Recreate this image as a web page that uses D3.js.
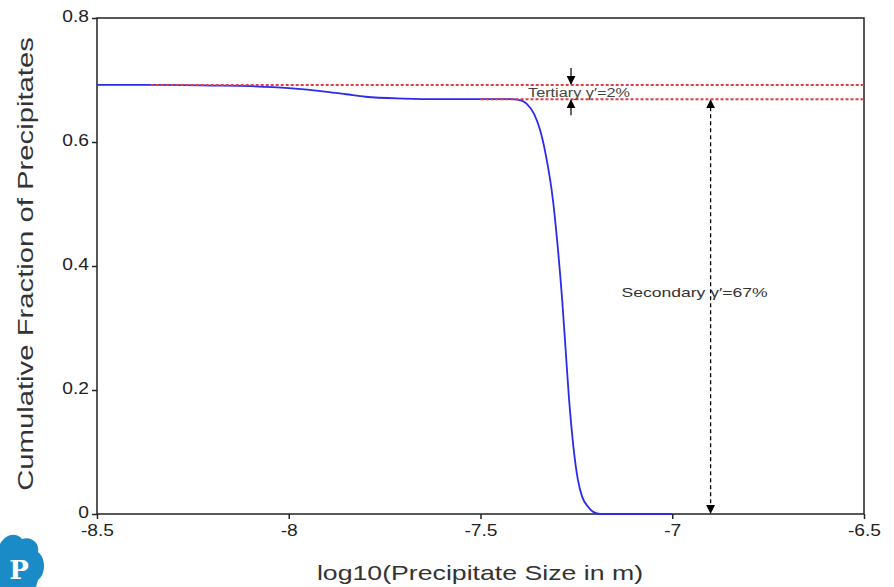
<!DOCTYPE html>
<html>
<head>
<meta charset="utf-8">
<style>
  body { margin: 0; background: #fff; }
  svg text { font-family: Arial, "Liberation Sans", sans-serif; }
</style>
<script src="https://d3js.org/d3.v7.min.js"></script>
</head>
<body>
<svg></svg>
<script>
// cumulative fraction curve
var sizeLog = [-8.5, -8.35, -8.2, -8.1, -8.0, -7.9, -7.85, -7.8, -7.7, -7.6, -7.5, -7.42, -7.40, -7.38, -7.36,
               -7.345, -7.33, -7.311, -7.30, -7.287, -7.278, -7.269, -7.258, -7.246, -7.235, -7.22, -7.205, -7.188, -7.1, -7.0];
var cumFrac = [0.692, 0.692, 0.691, 0.690, 0.687, 0.681, 0.677, 0.673, 0.670, 0.669, 0.669, 0.669, 0.668, 0.662, 0.645,
               0.62, 0.58, 0.506, 0.44, 0.345, 0.265, 0.184, 0.11, 0.055, 0.028, 0.012, 0.003, 0.0, 0.0, 0.0];
var xTicks = [-8.5, -8, -7.5, -7, -6.5];
var xTickLabels = ["-8.5", "-8", "-7.5", "-7", "-6.5"];
var yTicks = [0, 0.2, 0.4, 0.6, 0.8];
var yTickLabels = ["0", "0.2", "0.4", "0.6", "0.8"];

// reference levels
var totalLevel = 0.692, secondaryLevel = 0.669;
var totalStart = -8.36, secondaryStart = -7.5;
var tertiaryX = -7.264, secondaryX = -6.9;

var width = 894, height = 587;
var margin = {left: 97, right: 30, top: 18, bottom: 73};

var svg = d3.select("svg").attr("width", width).attr("height", height);

var x = d3.scaleLinear().domain([-8.5, -6.5]).range([margin.left, width - margin.right]);
var y = d3.scaleLinear().domain([0, 0.8]).range([height - margin.bottom, margin.top]);

// the source picture has wide lettering: widen text a bit
function stretch(sel, f) {
  sel.each(function() {
    var w = this.getComputedTextLength();
    d3.select(this).attr("textLength", w * f).attr("lengthAdjust", "spacingAndGlyphs");
  });
}

var defs = svg.append("defs");
defs.append("marker")
    .attr("id", "arr")
    .attr("viewBox", "0 0 10 10")
    .attr("refX", 9).attr("refY", 5)
    .attr("markerWidth", 9).attr("markerHeight", 9)
    .attr("markerUnits", "userSpaceOnUse")
    .attr("orient", "auto-start-reverse")
  .append("path")
    .attr("d", "M0,0L10,5L0,10z")
    .attr("fill", "#000");

// frame
svg.append("rect")
    .attr("x", x(-8.5)).attr("y", y(0.8))
    .attr("width", x(-6.5) - x(-8.5)).attr("height", y(0) - y(0.8))
    .attr("fill", "none").attr("stroke", "#222").attr("stroke-width", 1.5);

var xAxis = svg.append("g")
    .attr("transform", "translate(0," + y(0) + ")")
    .call(d3.axisBottom(x).tickValues(xTicks).tickSize(5).tickPadding(6)
      .tickFormat(function(d, i) { return xTickLabels[i]; }));
var yAxis = svg.append("g")
    .attr("transform", "translate(" + x(-8.5) + ",0)")
    .call(d3.axisLeft(y).tickValues(yTicks).tickSize(5).tickPadding(3)
      .tickFormat(function(d, i) { return yTickLabels[i]; }));
[xAxis, yAxis].forEach(function(a) {
  a.select(".domain").remove();
  a.selectAll("line").attr("stroke", "#222").attr("stroke-width", 1.5);
  a.selectAll("text").attr("font-size", 16).attr("fill", "#222")
    .style("font-family", "Arial, 'Liberation Sans', sans-serif");
  stretch(a.selectAll("text"), 1.2);
});
yAxis.selectAll("text").attr("dy", "0.2em");

// curve
var line = d3.line()
    .x(function(d, i) { return x(sizeLog[i]); })
    .y(function(d) { return y(d); })
    .curve(d3.curveMonotoneX);
svg.append("path")
    .datum(cumFrac)
    .attr("d", line)
    .attr("fill", "none")
    .attr("stroke", "#2b2bf0")
    .attr("stroke-width", 1.8);

// red dashed levels
svg.append("line")
    .attr("x1", x(totalStart)).attr("x2", x(-6.5))
    .attr("y1", y(totalLevel)).attr("y2", y(totalLevel))
    .attr("stroke", "#e63a46").attr("stroke-width", 2).attr("stroke-dasharray", "3,2");
svg.append("line")
    .attr("x1", x(secondaryStart)).attr("x2", x(-6.5))
    .attr("y1", y(secondaryLevel)).attr("y2", y(secondaryLevel))
    .attr("stroke", "#e63a46").attr("stroke-width", 2).attr("stroke-dasharray", "3,2");

// tertiary arrows
svg.append("line")
    .attr("x1", x(tertiaryX)).attr("x2", x(tertiaryX))
    .attr("y1", y(totalLevel) - 17).attr("y2", y(totalLevel) - 1)
    .attr("stroke", "#000").attr("stroke-width", 1.2).attr("marker-end", "url(#arr)");
svg.append("line")
    .attr("x1", x(tertiaryX)).attr("x2", x(tertiaryX))
    .attr("y1", y(secondaryLevel) + 16).attr("y2", y(secondaryLevel) + 1)
    .attr("stroke", "#000").attr("stroke-width", 1.2).attr("marker-end", "url(#arr)");
var tert = svg.append("text")
    .attr("x", x(tertiaryX) + 8).attr("y", y((totalLevel + secondaryLevel) / 2) + 4.5)
    .attr("text-anchor", "middle")
    .attr("font-size", 12.5).attr("fill", "#444")
    .text("Tertiary γ′=2%");
stretch(tert, 1.3);

// secondary arrow
svg.append("line")
    .attr("x1", x(secondaryX)).attr("x2", x(secondaryX))
    .attr("y1", y(secondaryLevel) + 1).attr("y2", y(0) - 1)
    .attr("stroke", "#000").attr("stroke-width", 1.3).attr("stroke-dasharray", "4,3")
    .attr("marker-start", "url(#arr)").attr("marker-end", "url(#arr)");
var sec = svg.append("text")
    .attr("x", x(secondaryX) - 16).attr("y", y(0.35))
    .attr("text-anchor", "middle")
    .attr("font-size", 13.5).attr("fill", "#333")
    .text("Secondary γ′=67%");
stretch(sec, 1.3);

// axis titles
var xt = svg.append("text")
    .attr("x", 480).attr("y", 580)
    .attr("text-anchor", "middle")
    .attr("font-size", 21).attr("fill", "#333")
    .text("log10(Precipitate Size in m)");
stretch(xt, 1.27);
var yt = svg.append("text")
    .attr("transform", "translate(33," + 264 + ") rotate(-90)")
    .attr("text-anchor", "middle")
    .attr("font-size", 22).attr("fill", "#333")
    .text("Cumulative Fraction of Precipitates");
stretch(yt, 1.33);

// logo in the corner
var logo = svg.append("g").attr("transform", "translate(0,530)");
logo.append("path")
    .attr("d", "M0,14 C6,4 16,2 22,9 C30,6 40,12 38,22 C46,28 46,44 38,50 L36,57 L0,57 Z")
    .attr("fill", "#1a8bc7");
logo.append("text")
    .attr("x", 19).attr("y", 49)
    .attr("text-anchor", "middle")
    .attr("font-size", 26).attr("font-weight", "bold")
    .attr("fill", "#fff")
    .style("font-family", "'DejaVu Serif', serif")
    .text("P");
</script>
</body>
</html>
